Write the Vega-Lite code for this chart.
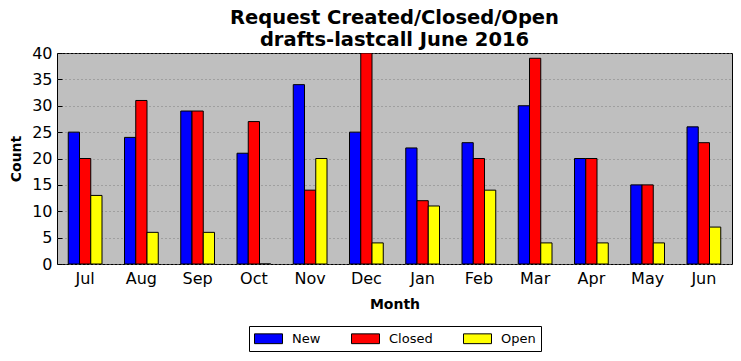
{
  "$schema": "https://vega.github.io/schema/vega-lite/v6.json",
  "width": 675,
  "height": 211,
  "autosize": {"type": "none"},
  "padding": {"left": 57, "top": 53, "right": 9, "bottom": 97},
  "background": "white",
  "title": {
    "text": ["Request Created/Closed/Open", "drafts-lastcall June 2016"],
    "font": "DejaVu Sans",
    "fontSize": 19.5,
    "fontWeight": "bold",
    "lineHeight": 22,
    "anchor": "middle",
    "offset": -5,
    "color": "black"
  },
  "config": {
    "font": "DejaVu Sans",
    "view": {"fill": "#bfbfbf", "stroke": "black", "strokeWidth": 1},
    "axis": {"labelColor": "black", "titleColor": "black", "tickColor": "black", "domain": false}
  },
  "data": {
    "values": [
      {"month": "Jul", "series": "New", "count": 25}, {"month": "Jul", "series": "Closed", "count": 20}, {"month": "Jul", "series": "Open", "count": 13},
      {"month": "Aug", "series": "New", "count": 24}, {"month": "Aug", "series": "Closed", "count": 31}, {"month": "Aug", "series": "Open", "count": 6},
      {"month": "Sep", "series": "New", "count": 29}, {"month": "Sep", "series": "Closed", "count": 29}, {"month": "Sep", "series": "Open", "count": 6},
      {"month": "Oct", "series": "New", "count": 21}, {"month": "Oct", "series": "Closed", "count": 27}, {"month": "Oct", "series": "Open", "count": 0},
      {"month": "Nov", "series": "New", "count": 34}, {"month": "Nov", "series": "Closed", "count": 14}, {"month": "Nov", "series": "Open", "count": 20},
      {"month": "Dec", "series": "New", "count": 25}, {"month": "Dec", "series": "Closed", "count": 40}, {"month": "Dec", "series": "Open", "count": 4},
      {"month": "Jan", "series": "New", "count": 22}, {"month": "Jan", "series": "Closed", "count": 12}, {"month": "Jan", "series": "Open", "count": 11},
      {"month": "Feb", "series": "New", "count": 23}, {"month": "Feb", "series": "Closed", "count": 20}, {"month": "Feb", "series": "Open", "count": 14},
      {"month": "Mar", "series": "New", "count": 30}, {"month": "Mar", "series": "Closed", "count": 39}, {"month": "Mar", "series": "Open", "count": 4},
      {"month": "Apr", "series": "New", "count": 20}, {"month": "Apr", "series": "Closed", "count": 20}, {"month": "Apr", "series": "Open", "count": 4},
      {"month": "May", "series": "New", "count": 15}, {"month": "May", "series": "Closed", "count": 15}, {"month": "May", "series": "Open", "count": 4},
      {"month": "Jun", "series": "New", "count": 26}, {"month": "Jun", "series": "Closed", "count": 23}, {"month": "Jun", "series": "Open", "count": 7}
    ]
  },
  "mark": {"type": "bar", "stroke": "black", "strokeWidth": 1, "clip": true},
  "encoding": {
    "x": {
      "field": "month", "type": "nominal",
      "sort": ["Jul","Aug","Sep","Oct","Nov","Dec","Jan","Feb","Mar","Apr","May","Jun"],
      "scale": {"paddingInner": 0.4, "paddingOuter": 0.2},
      "axis": {"orient": "bottom", "title": "Month", "titleFontSize": 14, "titleFontWeight": "bold", "titlePadding": 11,
               "labelFontSize": 16, "labelAngle": 0, "labelPadding": 11, "tickSize": -5, "grid": false}
    },
    "xOffset": {"field": "series", "type": "nominal", "sort": ["New", "Closed", "Open"], "scale": {"paddingInner": 0, "paddingOuter": 0}},
    "y": {
      "field": "count", "type": "quantitative",
      "scale": {"domain": [0, 40], "nice": false},
      "axis": {"orient": "left", "title": "Count", "titleFontSize": 14, "titleFontWeight": "bold", "titlePadding": 8,
               "labelFontSize": 16, "values": [0,5,10,15,20,25,30,35,40], "tickSize": -5, "labelPadding": 10,
               "grid": true, "gridColor": "#7f7f7f", "gridDash": [1, 3], "gridWidth": 1}
    },
    "color": {
      "field": "series", "type": "nominal",
      "sort": ["New", "Closed", "Open"],
      "scale": {"domain": ["New", "Closed", "Open"], "range": ["#0000ff", "#ff0000", "#ffff00"]},
      "legend": {
        "orient": "none", "legendX": 192, "legendY": 273, "direction": "horizontal", "title": null,
        "symbolType": "M-2,-0.7H2V0.7H-2Z", "symbolSize": 196, "symbolOffset": 7, "symbolStrokeColor": "black", "symbolStrokeWidth": 1,
        "symbolOpacity": 1, "labelFontSize": 13, "labelColor": "black", "labelOffset": 16, "columnPadding": 28,
        "strokeColor": "black", "padding": 5, "fillColor": "white"
      }
    }
  }
}
